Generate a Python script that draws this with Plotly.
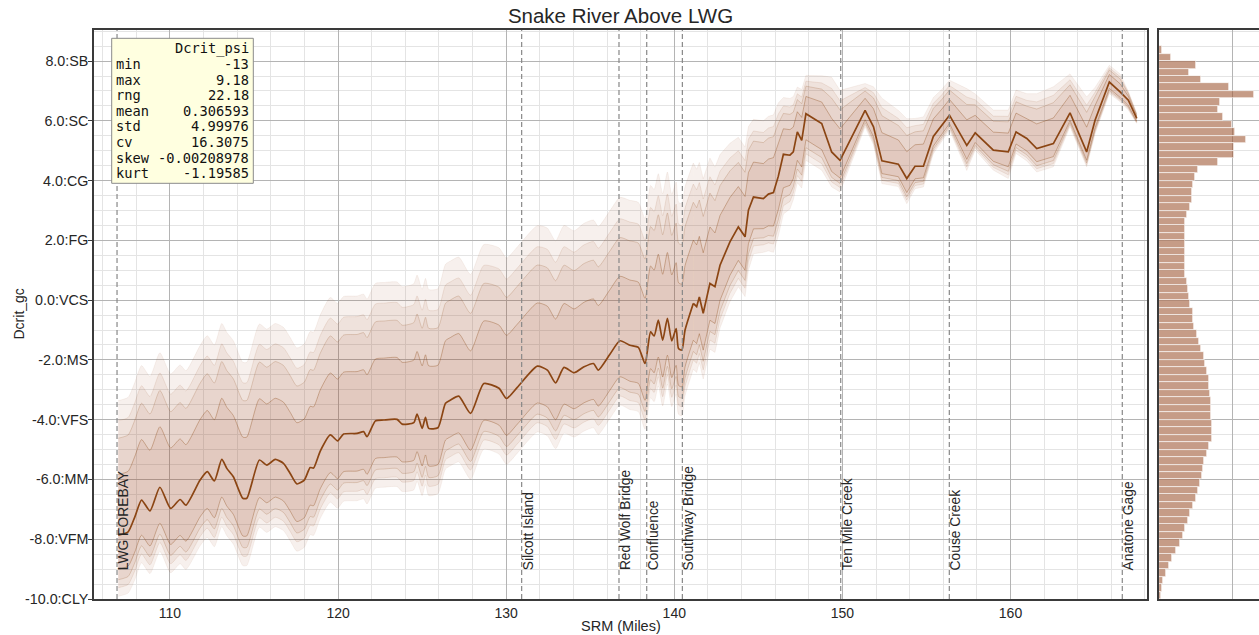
import plotly.graph_objects as go

# ---------------------------------------------------------------- page geometry (px)
W, H = 1259, 635
PLOT_TOP, PLOT_BOTTOM = 30, 599
MAIN_LEFT, MAIN_RIGHT = 94, 1147
HIST_LEFT = 1159

# ---------------------------------------------------------------- data
# river mile, median Dcrit and the outer spread above / below the median
srm = [106.92, 107.51, 107.91, 108.31, 108.81, 109.40, 110.04, 110.60, 110.95, 111.79,
       112.22, 112.64, 113.08, 113.38, 113.77, 114.33, 114.57, 115.32, 115.76, 116.26,
       116.75, 117.15, 117.55, 117.99, 118.34, 118.54, 118.94, 119.54, 119.97, 120.33,
       121.13, 121.52, 121.72, 122.22, 122.71, 123.51, 123.81, 124.50, 124.70, 125.00,
       125.20, 125.39, 125.94, 126.39, 126.69, 127.18, 127.88, 128.67, 129.57, 130.02,
       130.66, 131.85, 132.45, 132.94, 133.44, 134.04, 134.63, 135.19, 135.48, 136.17,
       136.77, 137.36, 137.86, 138.26, 138.59, 138.80, 139.05, 139.31, 139.59, 139.85,
       140.11, 140.25, 140.45, 140.64, 141.13, 141.33, 141.49, 141.72, 142.12, 142.42,
       142.72, 143.31, 143.81, 144.21, 144.41, 144.71, 145.30, 145.60, 145.90, 146.19,
       146.49, 146.88, 147.08, 147.32, 147.58, 147.83, 148.77, 149.36, 149.86, 151.35,
       151.85, 152.35, 153.33, 153.83, 154.32, 154.82, 155.41, 155.91, 156.37, 157.40,
       157.90, 158.98, 159.87, 160.33, 160.97, 161.56, 162.55, 163.54, 164.53, 165.03,
       165.88, 166.52, 167.01, 167.51]
dcrit_median = [-7.86, -7.75, -7.25, -6.69, -7.05, -6.26, -6.97, -6.67, -6.86, -6.02,
                -5.74, -6.05, -5.33, -5.63, -5.91, -6.63, -6.63, -5.35, -5.52, -5.33,
                -5.46, -5.80, -6.15, -6.02, -5.60, -5.62, -5.05, -4.51, -4.71, -4.48,
                -4.46, -4.40, -4.57, -4.04, -4.01, -3.99, -4.15, -4.10, -3.81, -4.29,
                -3.92, -4.29, -4.27, -3.45, -3.34, -3.21, -3.79, -2.79, -2.95, -3.29,
                -2.92, -2.21, -2.34, -2.77, -2.25, -2.43, -2.23, -2.12, -2.34, -1.81,
                -1.36, -1.51, -1.58, -2.12, -1.06, -1.20, -0.67, -1.34, -0.61, -1.36,
                -0.95, -1.62, -1.67, -1.00, -0.11, -0.22, 0.11, -0.44, 0.56, 0.45,
                1.17, 1.95, 2.45, 2.12, 3.01, 3.45, 3.40, 3.55, 3.60, 4.15,
                4.88, 4.85, 4.96, 5.63, 5.35, 6.24, 5.91, 4.96, 4.68, 6.35,
                5.80, 4.66, 4.55, 4.07, 4.48, 4.48, 5.48, 5.85, 6.19, 5.18,
                5.60, 5.02, 4.96, 5.63, 5.41, 5.07, 5.24, 6.27, 4.96, 6.02,
                7.30, 6.97, 6.69, 6.08]
spread_hi = [4.50, 4.50, 4.50, 4.50, 4.50, 4.50, 4.50, 4.50, 4.50, 4.50,
             4.55, 4.55, 4.55, 4.55, 4.55, 4.55, 4.55, 4.55, 4.55, 4.55,
             4.55, 4.55, 4.55, 4.55, 4.55, 4.55, 4.55, 4.60, 4.60, 4.60,
             4.60, 4.60, 4.60, 4.60, 4.60, 4.60, 4.60, 4.65, 4.65, 4.65,
             4.65, 4.65, 4.65, 4.65, 4.65, 4.65, 4.65, 4.65, 4.70, 4.70,
             4.70, 4.70, 4.75, 4.75, 4.75, 4.75, 4.80, 4.80, 4.80, 4.80,
             4.80, 4.85, 4.85, 4.85, 4.90, 4.90, 4.90, 4.90, 4.90, 4.90,
             4.90, 4.90, 4.90, 4.80, 4.70, 4.60, 4.50, 4.50, 4.20, 4.00,
             3.70, 3.30, 3.00, 3.00, 2.80, 2.60, 2.60, 2.60, 2.60, 2.45,
             1.90, 1.90, 1.85, 1.50, 1.70, 1.28, 1.60, 2.50, 2.34, 0.90,
             1.34, 2.10, 1.80, 2.00, 1.60, 1.65, 1.30, 1.20, 1.17, 1.90,
             1.30, 1.34, 1.40, 1.40, 1.50, 1.84, 1.90, 1.30, 1.84, 1.10,
             0.56, 0.60, 0.30, 0.17]
spread_lo = [2.05, 2.05, 2.10, 2.10, 2.10, 2.15, 2.15, 2.15, 2.15, 2.20,
             2.20, 2.20, 2.25, 2.25, 2.25, 2.25, 2.25, 2.25, 2.25, 2.25,
             2.25, 2.25, 2.25, 2.25, 2.25, 2.25, 2.25, 2.25, 2.25, 2.25,
             2.25, 2.25, 2.25, 2.25, 2.25, 2.25, 2.25, 2.25, 2.25, 2.25,
             2.25, 2.25, 2.20, 2.20, 2.20, 2.20, 2.20, 2.20, 2.20, 2.20,
             2.20, 2.20, 2.20, 2.20, 2.20, 2.15, 2.15, 2.15, 2.15, 2.15,
             2.15, 2.15, 2.15, 2.20, 2.20, 2.20, 2.20, 2.20, 2.20, 2.20,
             2.20, 2.20, 2.20, 2.20, 2.20, 2.20, 2.20, 2.20, 2.20, 2.20,
             2.10, 2.00, 2.00, 2.00, 2.00, 1.90, 1.80, 1.90, 2.00, 2.00,
             2.00, 1.80, 1.60, 1.70, 1.60, 1.56, 1.56, 1.17, 1.06, 0.56,
             0.60, 0.76, 0.75, 0.84, 0.75, 0.69, 0.58, 0.55, 0.50, 0.84,
             0.58, 0.67, 0.89, 0.72, 0.75, 0.78, 0.78, 0.47, 0.50, 0.45,
             0.39, 0.33, 0.33, 0.17]
# share of the outer spread reached by each band edge (inner -> outer)
band_frac_hi = [0.45, 0.72, 0.85, 1.00]
band_frac_lo = [0.56, 0.73, 0.86, 1.00]

landmark_names = ["LWG FOREBAY", "Silcott Island", "Red Wolf Bridge", "Confluence",
                  "Southway Bridge", "Ten Mile Creek", "Couse Creek", "Anatone Gage"]
landmark_srm = [106.85, 130.92, 136.71, 138.36, 140.48, 149.90, 156.36, 166.65]

ytick_vals = [-10, -8, -6, -4, -2, 0, 2, 4, 6, 8]
ytick_text = ["-10.0:CLY", "-8.0:VFM", "-6.0:MM", "-4.0:VFS", "-2.0:MS",
              "0.0:VCS", "2.0:FG", "4.0:CG", "6.0:SC", "8.0:SB"]
xtick_vals = [110, 120, 130, 140, 150, 160]

# histogram of Dcrit (bins of 0.25, listed from the top bin downward)
hist_bin_width = 0.25
hist_top_bin = 8.25
hist_counts = [4, 17, 51, 41, 58, 96, 130, 83, 81, 87,
               100, 104, 119, 103, 102, 81, 53, 49, 46, 45,
               45, 43, 38, 35, 35, 35, 35, 35, 35, 35,
               36, 38, 40, 41, 43, 46, 47, 48, 52, 54,
               58, 61, 63, 65, 68, 69, 70, 71, 71, 71,
               72, 73, 72, 68, 65, 61, 60, 59, 56, 53,
               50, 46, 42, 39, 35, 33, 29, 23, 18, 14,
               10, 6, 4, 3]
hist_bin_lo = [hist_top_bin - hist_bin_width * i for i in range(len(hist_counts))]

stat_names = ["min", "max", "rng", "mean", "std", "cv", "skew", "kurt"]
stat_values = [-13, 9.18, 22.18, 0.306593, 4.99976, 16.3075, -0.00208978, -1.19585]
stat_column = "Dcrit_psi"

# ---------------------------------------------------------------- styling
BROWN = "rgb(139,69,19)"
BAND_FILL = "rgba(160,82,45,0.085)"
EDGE_ALPHA = [0.38, 0.22, 0.12, 0.07]
GRID_MAJOR = "#b4b4b4"
GRID_MINOR = "#e4e4e4"
FRAME = "#3a3a3a"
TEXT = "#262626"
SANS = "Liberation Sans, Arial, sans-serif"
MONO = "DejaVu Sans Mono, monospace"

# the densely sampled reach downstream of ~RM 141 is drawn smoothed,
# the sparser upstream reach with straight segments
SPLIT = srm.index(141.13)
segments = [(0, SPLIT + 1, "spline"), (SPLIT, len(srm), "linear")]


def px_x(p):
    return p / W


def px_y(p):
    return (PLOT_BOTTOM - p) / (PLOT_BOTTOM - PLOT_TOP)


fig = go.Figure()

# percentile bands, outermost first so the inner ones stack darker
for a, b, shape in segments:
    xs = srm[a:b]
    med = dcrit_median[a:b]
    for k in reversed(range(len(band_frac_hi))):
        upper = [m + band_frac_hi[k] * s for m, s in zip(med, spread_hi[a:b])]
        lower = [m - band_frac_lo[k] * s for m, s in zip(med, spread_lo[a:b])]
        edge = dict(color=f"rgba(139,69,19,{EDGE_ALPHA[k]})", width=0.9,
                    shape=shape, smoothing=0.6)
        fig.add_trace(go.Scatter(x=xs, y=lower, mode="lines", line=edge,
                                 hoverinfo="skip", showlegend=False))
        fig.add_trace(go.Scatter(x=xs, y=upper, mode="lines", line=edge,
                                 fill="tonexty", fillcolor=BAND_FILL,
                                 hoverinfo="skip", showlegend=False))

for a, b, shape in segments:
    fig.add_trace(go.Scatter(x=srm[a:b], y=dcrit_median[a:b], mode="lines",
                             line=dict(color=BROWN, width=1.7, shape=shape,
                                       smoothing=0.6),
                             showlegend=False))

# side histogram
fig.add_trace(go.Bar(x=hist_counts, y=[b + hist_bin_width / 2 for b in hist_bin_lo],
                     width=hist_bin_width, orientation="h",
                     marker=dict(color="rgba(160,90,55,0.6)",
                                 line=dict(color="rgba(255,255,255,0.85)", width=0.7)),
                     xaxis="x2", yaxis="y2", showlegend=False))

shapes = []
for s in landmark_srm:
    shapes.append(dict(type="line", xref="x", yref="paper", x0=s, x1=s, y0=0, y1=1,
                       line=dict(color="#888888", width=1.2, dash="5px,3px"),
                       layer="above"))
# statistics box
shapes.append(dict(type="rect", xref="paper", yref="paper",
                   x0=px_x(111.7), x1=px_x(253.3), y0=px_y(183.3), y1=px_y(38.3),
                   fillcolor="#ffffe0", line=dict(color="#8a8a8a", width=1),
                   layer="above"))

annotations = []
for name, s in zip(landmark_names, landmark_srm):
    annotations.append(dict(x=s, y=-9.1, xref="x", yref="y", text=name,
                            textangle=-90, xanchor="left", yanchor="bottom",
                            showarrow=False, xshift=-3,
                            font=dict(family=SANS, size=13.8, color=TEXT)))

rows = [("", stat_column)] + [(n, f"{v:g}") for n, v in zip(stat_names, stat_values)]
for i, (label, value) in enumerate(rows):
    yy = px_y(48.3 + i * 15.63)
    if label:
        annotations.append(dict(x=px_x(113.5), y=yy, xref="paper", yref="paper",
                                text=label, xanchor="left", yanchor="middle",
                                showarrow=False,
                                font=dict(family=MONO, size=13.7, color="#111111")))
    annotations.append(dict(x=px_x(250.5), y=yy, xref="paper", yref="paper",
                            text=value, xanchor="right", yanchor="middle",
                            showarrow=False,
                            font=dict(family=MONO, size=13.7, color="#111111")))

annotations.append(dict(x=px_x(18), y=0.5, xref="paper", yref="paper", text="Dcrit_gc",
                        textangle=-90, showarrow=False, xanchor="center",
                        yanchor="middle", font=dict(family=SANS, size=14, color=TEXT)))
annotations.append(dict(x=px_x((MAIN_LEFT + MAIN_RIGHT) / 2), y=px_y(626),
                        xref="paper", yref="paper", text="SRM (Miles)",
                        showarrow=False, xanchor="center", yanchor="middle",
                        font=dict(family=SANS, size=14.5, color=TEXT)))

axis_common = dict(showgrid=True, gridcolor=GRID_MAJOR, gridwidth=1, zeroline=False,
                   showline=True, linecolor=FRAME, linewidth=1.6)

fig.update_layout(
    width=W, height=H,
    margin=dict(l=0, r=0, t=PLOT_TOP, b=H - PLOT_BOTTOM),
    paper_bgcolor="white", plot_bgcolor="white",
    showlegend=False,
    title=dict(text="Snake River Above LWG", x=px_x((MAIN_LEFT + MAIN_RIGHT) / 2),
               xanchor="center", xref="paper", y=1 - 16 / H, yanchor="middle",
               font=dict(family=SANS, size=20.5, color=TEXT)),
    xaxis=dict(domain=[px_x(MAIN_LEFT), px_x(MAIN_RIGHT)], range=[105.48, 168.12],
               tickvals=xtick_vals, ticks="", mirror=True,
               tickfont=dict(family=SANS, size=14, color=TEXT),
               minor=dict(dtick=2, tick0=0, showgrid=True, gridcolor=GRID_MINOR,
                          gridwidth=1, ticks=""),
               **axis_common),
    yaxis=dict(domain=[0, 1], range=[-10, 9.04], tickvals=ytick_vals,
               ticktext=ytick_text, ticks="outside", ticklen=4, tickcolor=FRAME,
               ticklabelstandoff=-3,
               mirror=True, tickfont=dict(family=SANS, size=14.3, color=TEXT),
               minor=dict(dtick=0.5, tick0=0, showgrid=True, gridcolor=GRID_MINOR,
                          gridwidth=1, ticks=""),
               **axis_common),
    xaxis2=dict(domain=[px_x(HIST_LEFT), 1], range=[0, 136.7], anchor="y2",
                tickvals=[100], showticklabels=False, ticks="", mirror=True,
                **axis_common),
    yaxis2=dict(domain=[0, 1], range=[-10, 9.04], anchor="x2", tickvals=ytick_vals,
                showticklabels=False, ticks="", mirror=False,
                minor=dict(dtick=0.5, tick0=0, showgrid=True, gridcolor=GRID_MINOR,
                           gridwidth=1, ticks=""),
                **axis_common),
    bargap=0,
    shapes=shapes,
    annotations=annotations,
)

fig.write_html("out.html")
